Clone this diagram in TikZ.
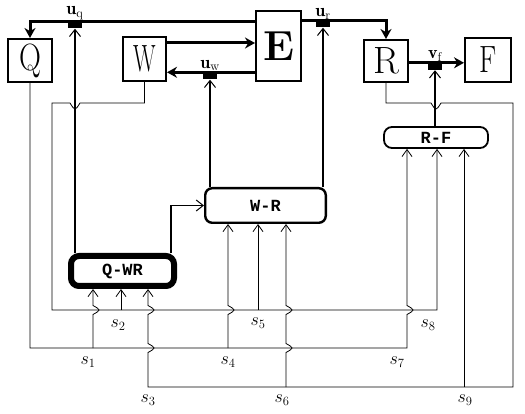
\RequirePackage{fix-cm}
\documentclass[tikz,border=0pt]{standalone}
\usepackage{fontspec}
\setmonofont{Liberation Mono}
\usetikzlibrary{arrows.meta, positioning, calc}

\begin{document}
\begin{tikzpicture}[x=1pt, y=-1pt,
  plant/.style={rectangle, draw, line width=2.4pt, inner sep=0pt, minimum width=43.6pt, minimum height=42.6pt, font=\fontsize{38}{38}\selectfont},
  ctrl/.style={rectangle, draw, rounded corners=7pt, inner sep=0pt, font=\ttfamily\bfseries\fontsize{17}{17}\selectfont},
  act/.style={rectangle, fill=black, inner sep=0pt, minimum width=14pt, minimum height=7pt},
  lbl/.style={inner sep=1pt, font=\fontsize{18}{18}\selectfont},
  flow/.style={line width=3pt, -{Stealth[length=10pt, width=11pt]}},
  cmd/.style={line width=1.6pt, -{Straight Barb[length=7pt, width=11pt, line width=1pt]}},
  sarr/.style={line width=0.8pt, -{Straight Barb[length=7pt, width=10pt, line width=0.8pt]}}]

\useasboundingbox (0,0) rectangle (525,414);

% plant blocks
\node[plant] (Q) at (30,60.5) {\scalebox{0.8}[1]{Q}};
\node[plant, minimum width=42.6pt, minimum height=43.6pt] (W) at (144.5,59) {\scalebox{0.62}[1]{W}};
\node[plant, minimum width=44.6pt, minimum height=69.6pt, font=\fontsize{42}{42}\selectfont\bfseries] (E) at (278.5,46) {E};
\node[plant, minimum height=41.6pt] (R) at (386,61) {R};
\node[plant, minimum width=45.6pt, minimum height=43.6pt] (F) at (488,60) {\scalebox{0.75}[1]{F}};

% controllers
\node[ctrl, line width=6pt, rounded corners=8pt, minimum width=103pt, minimum height=30pt] (QWR) at (122.5,271) {Q-WR};
\node[ctrl, line width=2.4pt, minimum width=120.6pt, minimum height=34.6pt] (WR) at (265.5,205.5) {W-R};
\node[ctrl, line width=1.8pt, rounded corners=8pt, minimum width=104pt, minimum height=21pt] (RF) at (436,137.5) {R-F};

% actuators
\node[act, label={[lbl]above:$\mathbf{u}_{\mathrm{q}}$}] (uq) at (75,25) {};
\node[act, label={[lbl]above:$\mathbf{u}_{\mathrm{w}}$}] (uw) at (210,76) {};
\node[act, label={[lbl]above:$\mathbf{u}_{\mathrm{r}}$}] (ur) at (323,24) {};
\node[act, label={[lbl]above:$\mathbf{v}_{\mathrm{f}}$}] (vf) at (435,66.5) {};

% material flows
\draw[flow] (E.west |- uq.north) -| (Q.north);
\draw[flow] ($(W.east)+(0,-16)$) coordinate (we) -- (we -| E.west);
\draw[flow] (E.west |- uw.north) -- (W.east |- uw.north);
\draw[flow] (E.east |- ur.north) -| (R.north);
\draw[flow] (R.east |- vf.north) -- (F.west |- vf.north);

% control signals
\draw[cmd] (QWR.north -| uq) -- (uq.south);
\draw[cmd] (WR.north -| uw) -- (uw.south);
\draw[cmd] (WR.north -| ur) -- (ur.south);
\draw[cmd] (RF.north -| vf) -- (vf.south);
\draw[cmd] ($(QWR.north east)+(-6,0)$) |- (WR.west);

% sensor taps
\coordinate (s1) at (93,348);
\coordinate (s2) at (121,310);
\coordinate (s3) at (148,387);
\coordinate (s4) at (228,348);
\coordinate (s5) at (258,310);
\coordinate (s6) at (286,387);
\coordinate (s7) at (407,348);
\coordinate (s8) at (437,310);
\coordinate (s9) at (464,387);

% Q measurements
\draw[sarr] (Q.south) |- (s1) -- (s4) -- (s7) -- ++(0,-33.5) .. controls +(8,-4.5) .. ++(0,-9) -- (s7 |- RF.south);
\draw[sarr] (s1) -- ++(0,-33.5) .. controls +(8,-4.5) .. ++(0,-9) -- (s1 |- QWR.south);
\draw[sarr] (s4) -- ++(0,-33.5) .. controls +(8,-4.5) .. ++(0,-9) -- (s4 |- WR.south);

% W measurements
\draw[sarr] (W.south) |- (80,103) .. controls +(-5,8) .. ++(-10,0) -- (52,103) |- (s2) -- (s5) -- (s8) -- (s8 |- RF.south);
\draw[sarr] (s2) -- (s2 |- QWR.south);
\draw[sarr] (s5) -- (s5 |- WR.south);

% R measurements
\draw[sarr] (R.south) |- (431,103) .. controls +(5,8) .. ++(10,0) -- (513,103) |- (s9) -- (s6) -- (s3)
  -- ++(0,-34.5) .. controls +(8,-4.5) .. ++(0,-9) -- ++(0,-29) .. controls +(8,-4.5) .. ++(0,-9) -- (s3 |- QWR.south);
\draw[sarr] (s6) -- ++(0,-34.5) .. controls +(8,-4.5) .. ++(0,-9) -- ++(0,-29) .. controls +(8,-4.5) .. ++(0,-9) -- (s6 |- WR.south);
\draw[sarr] (s9) -- (s9 |- RF.south);

\foreach \n/\dx/\dy in {1/-5/14, 2/-3/15, 3/0/13, 4/0/14, 5/0/13, 6/-4/13, 7/-10/14, 8/-9/15, 9/1/13}
  \node[lbl] (l\n) at ($(s\n)+(\dx,\dy)$) {$s_{\n}$};

\end{tikzpicture}
\end{document}
